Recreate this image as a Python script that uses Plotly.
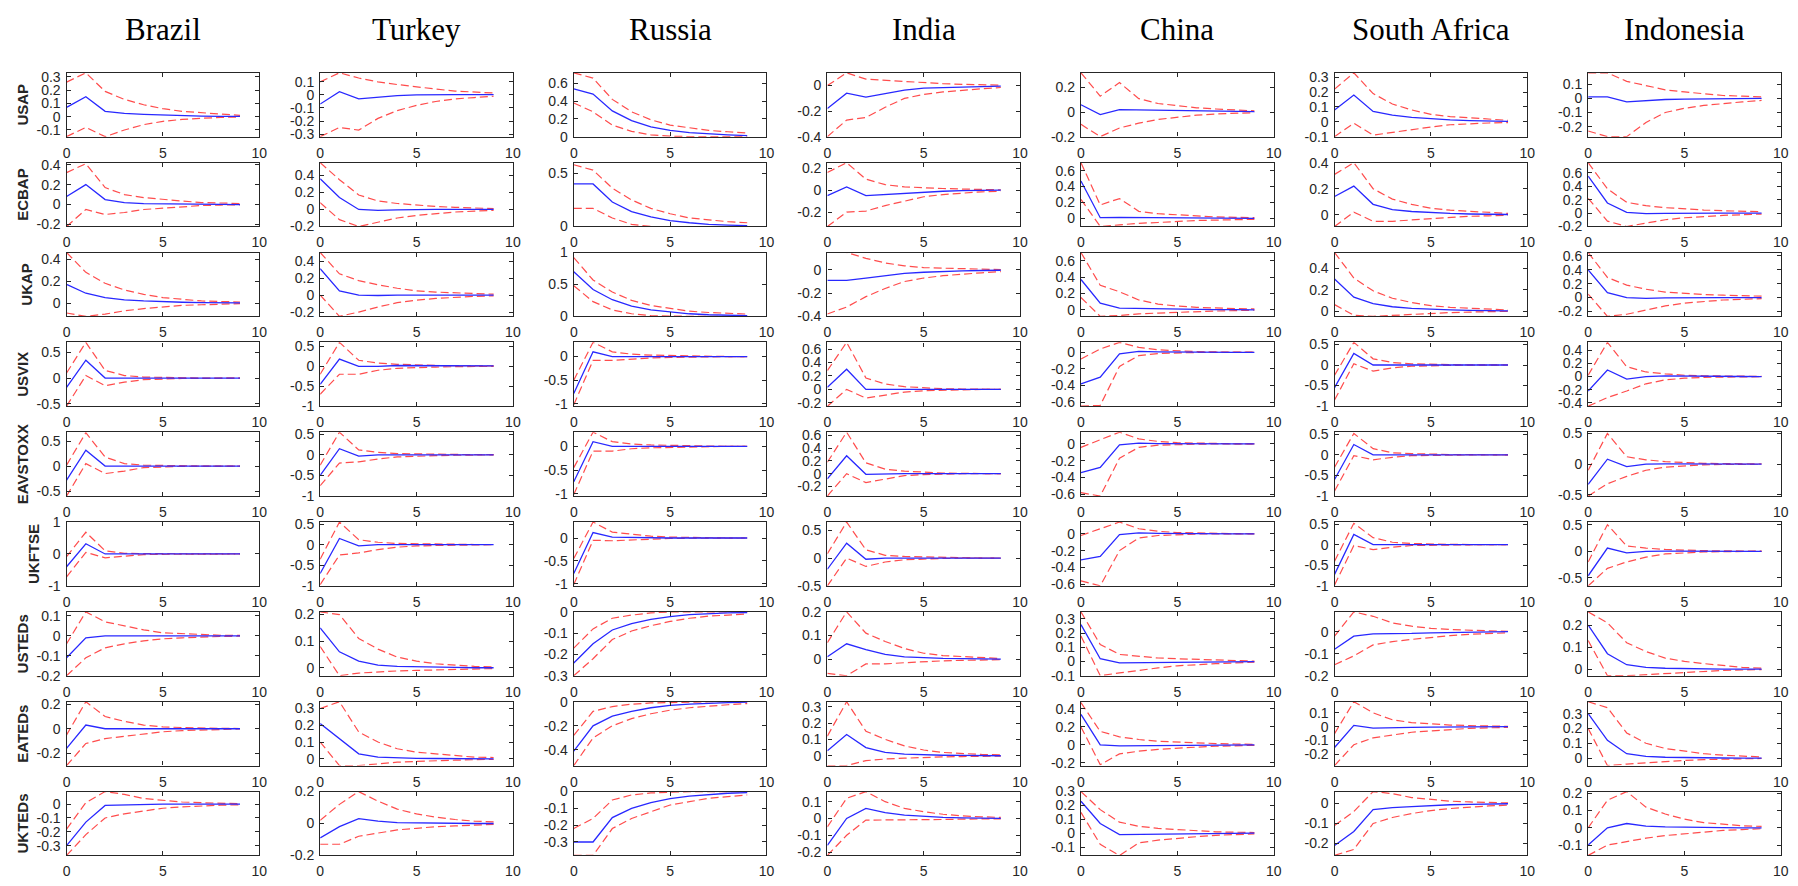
import math
import plotly.graph_objects as go

# ---------------- data ----------------
countries = ["Brazil", "Turkey", "Russia", "India", "China", "South Africa", "Indonesia"]
variables = ["USAP", "ECBAP", "UKAP", "USVIX", "EAVSTOXX", "UKFTSE", "USTEDs", "EATEDs", "UKTEDs"]
horizon = list(range(10))

brazil_mid = [
    [0.07, 0.15, 0.04, 0.025, 0.018, 0.012, 0.008, 0.005, 0.003, 0.002],
    [0.08, 0.20, 0.05, 0.02, 0.01, 0.006, 0.004, 0.002, 0.001, 0.0],
    [0.17, 0.09, 0.05, 0.03, 0.02, 0.012, 0.008, 0.005, 0.003, 0.002],
    [-0.18, 0.35, 0.0, 0.0, 0.0, 0.0, 0.0, 0.0, 0.0, 0.0],
    [-0.28, 0.32, 0.0, 0.0, 0.0, 0.0, 0.0, 0.0, 0.0, 0.0],
    [-0.40, 0.32, 0.0, 0.0, 0.0, 0.0, 0.0, 0.0, 0.0, 0.0],
    [-0.11, -0.01, 0.0, 0.0, 0.0, 0.0, 0.0, 0.0, 0.0, 0.0],
    [-0.16, 0.03, 0.0, 0.0, 0.0, 0.0, 0.0, 0.0, 0.0, 0.0],
    [-0.30, -0.13, -0.01, -0.005, 0.0, 0.0, 0.0, 0.0, 0.0, 0.0],
]
brazil_hi = [
    [0.26, 0.33, 0.19, 0.13, 0.09, 0.06, 0.04, 0.03, 0.02, 0.01],
    [0.32, 0.41, 0.17, 0.10, 0.07, 0.05, 0.035, 0.02, 0.015, 0.01],
    [0.46, 0.28, 0.18, 0.12, 0.08, 0.05, 0.035, 0.02, 0.015, 0.01],
    [0.10, 0.70, 0.15, 0.05, 0.02, 0.01, 0.005, 0.0, 0.0, 0.0],
    [0.02, 0.67, 0.18, 0.05, 0.02, 0.01, 0.005, 0.0, 0.0, 0.0],
    [-0.08, 0.68, 0.10, 0.02, 0.01, 0.005, 0.0, 0.0, 0.0, 0.0],
    [-0.04, 0.12, 0.07, 0.05, 0.03, 0.015, 0.01, 0.005, 0.003, 0.002],
    [-0.05, 0.22, 0.10, 0.06, 0.03, 0.015, 0.01, 0.005, 0.003, 0.002],
    [-0.18, 0.01, 0.09, 0.07, 0.04, 0.025, 0.015, 0.01, 0.005, 0.003],
]
brazil_lo = [
    [-0.15, -0.08, -0.15, -0.10, -0.06, -0.035, -0.02, -0.01, -0.005, -0.003],
    [-0.22, -0.05, -0.10, -0.08, -0.05, -0.035, -0.02, -0.01, -0.005, -0.003],
    [-0.09, -0.12, -0.10, -0.07, -0.05, -0.035, -0.02, -0.015, -0.01, -0.005],
    [-0.55, 0.05, -0.15, -0.08, -0.03, -0.015, -0.008, -0.004, -0.002, 0.0],
    [-0.60, 0.05, -0.15, -0.10, -0.03, -0.01, -0.005, 0.0, 0.0, 0.0],
    [-0.72, 0.05, -0.12, -0.06, -0.02, -0.01, -0.005, 0.0, 0.0, 0.0],
    [-0.20, -0.11, -0.06, -0.04, -0.025, -0.015, -0.01, -0.005, -0.003, -0.002],
    [-0.30, -0.12, -0.08, -0.06, -0.04, -0.025, -0.015, -0.01, -0.005, -0.002],
    [-0.37, -0.22, -0.10, -0.07, -0.05, -0.03, -0.02, -0.012, -0.008, -0.005],
]

turkey_mid = [
    [-0.07, 0.025, -0.03, -0.015, -0.005, 0.0, 0.003, 0.003, 0.002, 0.002],
    [0.36, 0.14, 0.0, -0.01, -0.005, 0.0, 0.0, 0.0, 0.0, 0.0],
    [0.31, 0.05, 0.0, -0.005, 0.0, 0.0, 0.0, 0.0, 0.0, 0.0],
    [-0.45, 0.18, 0.0, 0.0, 0.02, 0.02, 0.02, 0.01, 0.01, 0.01],
    [-0.50, 0.15, -0.03, 0.0, 0.0, 0.0, 0.0, 0.0, 0.0, 0.0],
    [-0.70, 0.15, -0.03, 0.0, 0.0, 0.0, 0.0, 0.0, 0.0, 0.0],
    [0.15, 0.06, 0.025, 0.01, 0.005, 0.003, 0.002, 0.001, 0.0, 0.0],
    [0.21, 0.12, 0.03, 0.01, 0.005, 0.003, 0.002, 0.001, 0.0, 0.0],
    [-0.09, -0.02, 0.03, 0.015, 0.005, 0.003, 0.002, 0.001, 0.0, 0.0],
]
turkey_hi = [
    [0.10, 0.17, 0.13, 0.10, 0.08, 0.06, 0.045, 0.03, 0.02, 0.015],
    [0.55, 0.35, 0.17, 0.10, 0.07, 0.05, 0.035, 0.025, 0.015, 0.01],
    [0.50, 0.25, 0.17, 0.12, 0.08, 0.05, 0.035, 0.025, 0.015, 0.01],
    [-0.20, 0.60, 0.15, 0.08, 0.05, 0.03, 0.02, 0.015, 0.01, 0.01],
    [-0.25, 0.55, 0.12, 0.06, 0.03, 0.02, 0.01, 0.01, 0.005, 0.005],
    [-0.35, 0.55, 0.12, 0.06, 0.03, 0.02, 0.01, 0.01, 0.005, 0.005],
    [0.21, 0.20, 0.11, 0.07, 0.04, 0.025, 0.015, 0.01, 0.005, 0.003],
    [0.30, 0.34, 0.16, 0.10, 0.06, 0.04, 0.03, 0.02, 0.01, 0.008],
    [0.02, 0.12, 0.20, 0.14, 0.09, 0.06, 0.04, 0.025, 0.015, 0.01],
]
turkey_lo = [
    [-0.32, -0.25, -0.27, -0.18, -0.12, -0.08, -0.05, -0.03, -0.02, -0.01],
    [0.08, -0.12, -0.20, -0.15, -0.10, -0.07, -0.05, -0.03, -0.02, -0.01],
    [0.0, -0.25, -0.20, -0.14, -0.09, -0.06, -0.04, -0.025, -0.015, -0.01],
    [-0.70, -0.20, -0.20, -0.10, -0.05, -0.03, -0.02, -0.01, -0.005, 0.0],
    [-0.75, -0.20, -0.17, -0.10, -0.05, -0.03, -0.02, -0.01, -0.005, 0.0],
    [-0.97, -0.25, -0.20, -0.12, -0.06, -0.03, -0.02, -0.01, -0.005, 0.0],
    [0.08, -0.03, -0.02, -0.015, -0.012, -0.01, -0.008, -0.006, -0.004, -0.003],
    [0.10, -0.04, -0.04, -0.03, -0.02, -0.015, -0.01, -0.008, -0.005, -0.003],
    [-0.13, -0.13, -0.08, -0.06, -0.04, -0.03, -0.02, -0.015, -0.01, -0.005],
]

russia_mid = [
    [0.54, 0.48, 0.29, 0.18, 0.11, 0.07, 0.045, 0.03, 0.02, 0.012],
    [0.40, 0.40, 0.23, 0.14, 0.09, 0.055, 0.035, 0.02, 0.013, 0.008],
    [0.70, 0.42, 0.26, 0.16, 0.10, 0.065, 0.04, 0.025, 0.015, 0.01],
    [-0.78, 0.10, 0.0, 0.0, 0.0, 0.0, 0.0, 0.0, 0.0, 0.0],
    [-0.75, 0.10, 0.0, 0.0, 0.0, 0.0, 0.0, 0.0, 0.0, 0.0],
    [-0.78, 0.12, 0.02, 0.01, 0.0, 0.0, 0.0, 0.0, 0.0, 0.0],
    [-0.24, -0.15, -0.085, -0.055, -0.035, -0.022, -0.013, -0.008, -0.005, -0.003],
    [-0.41, -0.20, -0.12, -0.08, -0.05, -0.03, -0.02, -0.012, -0.007, -0.004],
    [-0.30, -0.30, -0.155, -0.10, -0.065, -0.042, -0.027, -0.017, -0.01, -0.006],
]
russia_hi = [
    [0.72, 0.66, 0.42, 0.28, 0.19, 0.13, 0.10, 0.07, 0.055, 0.04],
    [0.58, 0.53, 0.36, 0.25, 0.17, 0.12, 0.08, 0.06, 0.045, 0.035],
    [0.92, 0.57, 0.38, 0.25, 0.17, 0.12, 0.08, 0.06, 0.045, 0.035],
    [-0.50, 0.30, 0.10, 0.05, 0.03, 0.02, 0.01, 0.005, 0.0, 0.0],
    [-0.45, 0.30, 0.10, 0.05, 0.03, 0.02, 0.01, 0.005, 0.0, 0.0],
    [-0.45, 0.35, 0.13, 0.08, 0.04, 0.02, 0.01, 0.005, 0.0, 0.0],
    [-0.17, -0.08, -0.03, -0.015, -0.005, 0.0, 0.0, 0.0, 0.0, 0.0],
    [-0.28, -0.08, -0.04, -0.02, -0.01, -0.005, 0.0, 0.0, 0.0, 0.0],
    [-0.22, -0.16, -0.05, -0.02, -0.008, -0.003, 0.0, 0.0, 0.0, 0.0],
]
russia_lo = [
    [0.38, 0.28, 0.13, 0.06, 0.02, 0.005, 0.0, 0.0, 0.0, 0.0],
    [0.17, 0.17, 0.08, 0.02, 0.0, 0.0, 0.0, 0.0, 0.0, 0.0],
    [0.48, 0.23, 0.10, 0.04, 0.01, 0.0, 0.0, 0.0, 0.0, 0.0],
    [-1.02, -0.08, -0.08, -0.05, -0.03, -0.02, -0.01, -0.005, 0.0, 0.0],
    [-1.02, -0.10, -0.10, -0.05, -0.03, -0.02, -0.01, -0.005, 0.0, 0.0],
    [-1.02, -0.05, -0.06, -0.04, -0.02, -0.01, -0.005, 0.0, 0.0, 0.0],
    [-0.30, -0.22, -0.13, -0.09, -0.065, -0.045, -0.03, -0.02, -0.015, -0.01],
    [-0.53, -0.30, -0.20, -0.14, -0.10, -0.07, -0.05, -0.035, -0.025, -0.015],
    [-0.38, -0.38, -0.22, -0.16, -0.12, -0.08, -0.06, -0.04, -0.03, -0.02],
]

india_mid = [
    [-0.18, -0.06, -0.09, -0.06, -0.035, -0.02, -0.015, -0.01, -0.008, -0.005],
    [-0.05, 0.03, -0.05, -0.04, -0.025, -0.015, -0.01, -0.005, -0.003, 0.0],
    [-0.09, -0.09, -0.07, -0.05, -0.03, -0.02, -0.012, -0.008, -0.005, -0.003],
    [0.03, 0.30, 0.0, 0.0, 0.0, 0.0, 0.0, 0.0, 0.0, 0.0],
    [-0.08, 0.28, -0.01, 0.0, 0.0, 0.0, 0.0, 0.0, 0.0, 0.0],
    [-0.20, 0.27, -0.02, 0.0, 0.0, 0.0, 0.0, 0.0, 0.0, 0.0],
    [0.01, 0.065, 0.04, 0.02, 0.01, 0.006, 0.003, 0.002, 0.001, 0.0],
    [0.03, 0.13, 0.05, 0.02, 0.01, 0.005, 0.003, 0.002, 0.001, 0.0],
    [-0.16, 0.0, 0.06, 0.035, 0.02, 0.012, 0.007, 0.004, 0.002, 0.001],
]
india_hi = [
    [0.0, 0.10, 0.05, 0.04, 0.03, 0.02, 0.015, 0.01, 0.005, 0.003],
    [0.16, 0.25, 0.10, 0.05, 0.03, 0.02, 0.015, 0.01, 0.005, 0.003],
    [0.15, 0.15, 0.10, 0.06, 0.035, 0.02, 0.015, 0.01, 0.005, 0.003],
    [0.28, 0.70, 0.17, 0.08, 0.04, 0.02, 0.01, 0.005, 0.0, 0.0],
    [0.18, 0.65, 0.17, 0.07, 0.04, 0.02, 0.01, 0.005, 0.0, 0.0],
    [0.08, 0.65, 0.15, 0.05, 0.03, 0.02, 0.01, 0.005, 0.0, 0.0],
    [0.07, 0.20, 0.11, 0.075, 0.045, 0.025, 0.015, 0.01, 0.005, 0.003],
    [0.12, 0.33, 0.15, 0.10, 0.06, 0.035, 0.02, 0.012, 0.008, 0.005],
    [-0.05, 0.12, 0.16, 0.10, 0.06, 0.04, 0.025, 0.015, 0.01, 0.006],
]
india_lo = [
    [-0.40, -0.27, -0.25, -0.17, -0.10, -0.07, -0.05, -0.035, -0.025, -0.015],
    [-0.33, -0.20, -0.19, -0.14, -0.10, -0.06, -0.04, -0.025, -0.015, -0.01],
    [-0.38, -0.32, -0.23, -0.16, -0.10, -0.07, -0.05, -0.035, -0.025, -0.015],
    [-0.25, 0.0, -0.13, -0.08, -0.04, -0.02, -0.01, -0.005, 0.0, 0.0],
    [-0.35, 0.0, -0.14, -0.08, -0.03, -0.015, -0.005, 0.0, 0.0, 0.0],
    [-0.50, 0.0, -0.15, -0.07, -0.03, -0.015, -0.005, 0.0, 0.0, 0.0],
    [-0.06, -0.07, -0.02, -0.02, -0.015, -0.01, -0.007, -0.005, -0.003, -0.002],
    [-0.06, -0.06, -0.03, -0.02, -0.015, -0.01, -0.007, -0.005, -0.003, -0.002],
    [-0.22, -0.10, -0.01, -0.01, -0.01, -0.008, -0.006, -0.004, -0.003, -0.002],
]

china_mid = [
    [0.06, -0.02, 0.02, 0.018, 0.015, 0.012, 0.01, 0.007, 0.005, 0.003],
    [0.47, 0.01, 0.015, 0.012, 0.01, 0.007, 0.005, 0.003, 0.002, 0.001],
    [0.37, 0.08, 0.02, 0.015, 0.01, 0.006, 0.004, 0.002, 0.001, 0.0],
    [-0.38, -0.30, -0.02, 0.01, 0.005, 0.002, 0.001, 0.0, 0.0, 0.0],
    [-0.34, -0.28, -0.01, 0.01, 0.005, 0.002, 0.001, 0.0, 0.0, 0.0],
    [-0.31, -0.27, -0.01, 0.01, 0.005, 0.002, 0.001, 0.0, 0.0, 0.0],
    [0.26, 0.02, -0.01, -0.008, -0.005, -0.003, -0.002, -0.001, 0.0, 0.0],
    [0.34, 0.0, -0.01, -0.008, -0.005, -0.003, -0.002, -0.001, 0.0, 0.0],
    [0.23, 0.07, -0.01, -0.008, -0.006, -0.004, -0.002, -0.001, 0.0, 0.0],
]
china_hi = [
    [0.32, 0.13, 0.24, 0.11, 0.07, 0.05, 0.035, 0.025, 0.015, 0.01],
    [0.70, 0.17, 0.25, 0.09, 0.06, 0.045, 0.03, 0.02, 0.015, 0.01],
    [0.70, 0.30, 0.22, 0.12, 0.07, 0.045, 0.03, 0.02, 0.015, 0.01],
    [-0.08, 0.04, 0.12, 0.06, 0.03, 0.015, 0.008, 0.004, 0.002, 0.001],
    [-0.04, 0.05, 0.14, 0.06, 0.03, 0.015, 0.008, 0.004, 0.002, 0.001],
    [-0.02, 0.06, 0.14, 0.06, 0.03, 0.015, 0.008, 0.004, 0.002, 0.001],
    [0.35, 0.12, 0.05, 0.035, 0.025, 0.02, 0.015, 0.01, 0.005, 0.003],
    [0.47, 0.15, 0.09, 0.06, 0.04, 0.03, 0.02, 0.015, 0.01, 0.005],
    [0.30, 0.17, 0.08, 0.05, 0.035, 0.025, 0.015, 0.01, 0.007, 0.005],
]
china_lo = [
    [-0.10, -0.20, -0.13, -0.09, -0.06, -0.04, -0.025, -0.015, -0.01, -0.005],
    [0.24, -0.10, -0.08, -0.06, -0.05, -0.035, -0.025, -0.02, -0.015, -0.01],
    [0.15, -0.08, -0.07, -0.05, -0.04, -0.03, -0.02, -0.015, -0.01, -0.005],
    [-0.65, -0.64, -0.17, -0.04, -0.015, -0.005, -0.002, 0.0, 0.0, 0.0],
    [-0.58, -0.62, -0.17, -0.04, -0.015, -0.005, -0.002, 0.0, 0.0, 0.0],
    [-0.56, -0.62, -0.20, -0.05, -0.02, -0.008, -0.003, 0.0, 0.0, 0.0],
    [0.18, -0.10, -0.08, -0.06, -0.045, -0.03, -0.02, -0.015, -0.01, -0.005],
    [0.20, -0.22, -0.10, -0.07, -0.05, -0.035, -0.025, -0.015, -0.01, -0.005],
    [0.15, -0.08, -0.16, -0.07, -0.05, -0.035, -0.025, -0.015, -0.01, -0.005],
]

safrica_mid = [
    [0.08, 0.18, 0.07, 0.045, 0.03, 0.02, 0.013, 0.008, 0.005, 0.003],
    [0.14, 0.22, 0.08, 0.04, 0.025, 0.015, 0.01, 0.006, 0.004, 0.002],
    [0.30, 0.13, 0.07, 0.04, 0.025, 0.015, 0.01, 0.006, 0.004, 0.002],
    [-0.55, 0.28, 0.0, 0.0, 0.0, 0.0, 0.0, 0.0, 0.0, 0.0],
    [-0.60, 0.25, 0.0, 0.0, 0.0, 0.0, 0.0, 0.0, 0.0, 0.0],
    [-0.72, 0.25, 0.0, 0.0, 0.0, 0.0, 0.0, 0.0, 0.0, 0.0],
    [-0.08, -0.02, -0.01, -0.01, -0.008, -0.005, -0.003, -0.002, -0.001, 0.0],
    [-0.15, 0.01, -0.01, -0.01, -0.005, -0.003, -0.002, -0.001, 0.0, 0.0],
    [-0.21, -0.14, -0.03, -0.02, -0.015, -0.01, -0.006, -0.004, -0.002, -0.001],
]
safrica_hi = [
    [0.22, 0.33, 0.19, 0.12, 0.08, 0.05, 0.035, 0.025, 0.015, 0.01],
    [0.31, 0.40, 0.20, 0.12, 0.08, 0.05, 0.035, 0.025, 0.015, 0.01],
    [0.55, 0.31, 0.19, 0.12, 0.08, 0.05, 0.035, 0.025, 0.015, 0.01],
    [-0.25, 0.55, 0.15, 0.06, 0.03, 0.015, 0.008, 0.004, 0.002, 0.0],
    [-0.30, 0.52, 0.15, 0.05, 0.03, 0.015, 0.008, 0.004, 0.002, 0.0],
    [-0.40, 0.52, 0.17, 0.06, 0.03, 0.015, 0.008, 0.004, 0.002, 0.0],
    [-0.02, 0.09, 0.07, 0.04, 0.025, 0.015, 0.01, 0.006, 0.004, 0.002],
    [-0.05, 0.18, 0.10, 0.05, 0.03, 0.02, 0.012, 0.008, 0.005, 0.003],
    [-0.11, -0.04, 0.06, 0.05, 0.03, 0.02, 0.012, 0.008, 0.005, 0.003],
]
safrica_lo = [
    [-0.10, -0.01, -0.09, -0.07, -0.05, -0.035, -0.02, -0.012, -0.008, -0.005],
    [-0.09, 0.02, -0.05, -0.05, -0.04, -0.03, -0.02, -0.012, -0.008, -0.005],
    [0.06, -0.04, -0.05, -0.04, -0.03, -0.02, -0.015, -0.01, -0.005, -0.003],
    [-0.85, 0.03, -0.15, -0.07, -0.03, -0.015, -0.008, -0.004, -0.002, 0.0],
    [-0.88, -0.02, -0.12, -0.06, -0.02, -0.01, -0.005, -0.002, 0.0, 0.0],
    [-0.98, -0.02, -0.12, -0.06, -0.02, -0.01, -0.005, -0.002, 0.0, 0.0],
    [-0.15, -0.11, -0.06, -0.045, -0.035, -0.025, -0.018, -0.012, -0.008, -0.005],
    [-0.28, -0.13, -0.08, -0.06, -0.04, -0.03, -0.02, -0.012, -0.008, -0.005],
    [-0.26, -0.23, -0.10, -0.07, -0.05, -0.035, -0.025, -0.018, -0.012, -0.008],
]

indonesia_mid = [
    [0.01, 0.01, -0.025, -0.015, -0.008, -0.005, -0.003, -0.002, -0.001, 0.0],
    [0.55, 0.15, 0.01, -0.01, -0.005, 0.0, 0.0, 0.0, 0.0, 0.0],
    [0.40, 0.07, 0.0, -0.01, -0.005, 0.0, 0.0, 0.0, 0.0, 0.0],
    [-0.22, 0.10, -0.04, 0.0, 0.01, 0.005, 0.003, 0.002, 0.001, 0.0],
    [-0.33, 0.08, -0.04, 0.0, 0.005, 0.003, 0.002, 0.001, 0.0, 0.0],
    [-0.46, 0.06, -0.03, 0.0, 0.005, 0.003, 0.002, 0.001, 0.0, 0.0],
    [0.20, 0.07, 0.02, 0.008, 0.004, 0.002, 0.001, 0.0, 0.0, 0.0],
    [0.30, 0.12, 0.03, 0.012, 0.006, 0.003, 0.002, 0.001, 0.0, 0.0],
    [-0.10, 0.0, 0.025, 0.01, 0.005, 0.003, 0.002, 0.001, 0.0, 0.0],
]
indonesia_hi = [
    [0.18, 0.18, 0.12, 0.09, 0.06, 0.045, 0.03, 0.02, 0.015, 0.01],
    [0.75, 0.36, 0.16, 0.11, 0.08, 0.06, 0.045, 0.035, 0.025, 0.02],
    [0.65, 0.29, 0.18, 0.12, 0.08, 0.06, 0.045, 0.035, 0.025, 0.02],
    [0.02, 0.52, 0.15, 0.07, 0.04, 0.02, 0.012, 0.008, 0.005, 0.003],
    [-0.10, 0.50, 0.12, 0.07, 0.04, 0.02, 0.012, 0.008, 0.005, 0.003],
    [-0.20, 0.50, 0.10, 0.06, 0.035, 0.02, 0.012, 0.008, 0.005, 0.003],
    [0.26, 0.21, 0.12, 0.08, 0.05, 0.035, 0.025, 0.015, 0.008, 0.004],
    [0.38, 0.34, 0.17, 0.10, 0.065, 0.045, 0.03, 0.02, 0.012, 0.008],
    [0.0, 0.16, 0.21, 0.12, 0.08, 0.05, 0.03, 0.02, 0.012, 0.008],
]
indonesia_lo = [
    [-0.23, -0.27, -0.27, -0.17, -0.10, -0.07, -0.05, -0.035, -0.025, -0.015],
    [0.22, -0.12, -0.20, -0.15, -0.10, -0.07, -0.05, -0.035, -0.025, -0.015],
    [0.05, -0.27, -0.24, -0.18, -0.12, -0.08, -0.055, -0.035, -0.025, -0.015],
    [-0.45, -0.32, -0.22, -0.11, -0.05, -0.025, -0.012, -0.006, -0.003, -0.002],
    [-0.52, -0.32, -0.20, -0.10, -0.05, -0.025, -0.012, -0.006, -0.003, -0.002],
    [-0.65, -0.32, -0.20, -0.11, -0.05, -0.025, -0.012, -0.006, -0.003, -0.002],
    [0.13, -0.03, -0.03, -0.025, -0.02, -0.015, -0.01, -0.006, -0.004, -0.002],
    [0.20, -0.05, -0.04, -0.03, -0.02, -0.015, -0.01, -0.007, -0.004, -0.002],
    [-0.16, -0.10, -0.08, -0.06, -0.045, -0.035, -0.025, -0.015, -0.01, -0.005],
]

# y-axis limits (per country, per variable) and y tick steps
brazil_ylim = [[-0.15, 0.33], [-0.22, 0.42], [-0.12, 0.46], [-0.55, 0.70], [-0.60, 0.68],
               [-1.0, 1.0], [-0.20, 0.12], [-0.30, 0.22], [-0.37, 0.09]]
turkey_ylim = [[-0.32, 0.17], [-0.20, 0.55], [-0.25, 0.50], [-1.0, 0.60], [-1.0, 0.55],
               [-1.0, 0.55], [-0.03, 0.21], [-0.04, 0.34], [-0.20, 0.20]]
russia_ylim = [[0.0, 0.72], [0.0, 0.60], [0.0, 1.0], [-1.05, 0.30], [-1.05, 0.30],
               [-1.05, 0.35], [-0.30, 0.0], [-0.53, 0.0], [-0.38, 0.0]]
india_ylim = [[-0.40, 0.10], [-0.33, 0.25], [-0.40, 0.15], [-0.25, 0.70], [-0.35, 0.65],
              [-0.50, 0.65], [-0.07, 0.20], [-0.06, 0.33], [-0.22, 0.16]]
china_ylim = [[-0.20, 0.32], [-0.10, 0.70], [-0.08, 0.70], [-0.65, 0.12], [-0.62, 0.14],
              [-0.62, 0.14], [-0.10, 0.35], [-0.23, 0.48], [-0.16, 0.30]]
safrica_ylim = [[-0.10, 0.33], [-0.09, 0.40], [-0.05, 0.55], [-1.0, 0.55], [-1.0, 0.55],
                [-1.0, 0.55], [-0.20, 0.09], [-0.28, 0.18], [-0.26, 0.06]]
indonesia_ylim = [[-0.27, 0.18], [-0.20, 0.75], [-0.27, 0.65], [-0.45, 0.52], [-0.52, 0.52],
                  [-0.65, 0.55], [-0.03, 0.26], [-0.05, 0.38], [-0.16, 0.21]]

brazil_ystep = [0.1, 0.2, 0.2, 0.5, 0.5, 1.0, 0.1, 0.2, 0.1]
turkey_ystep = [0.1, 0.2, 0.2, 0.5, 0.5, 0.5, 0.1, 0.1, 0.2]
russia_ystep = [0.2, 0.5, 0.5, 0.5, 0.5, 0.5, 0.1, 0.2, 0.1]
india_ystep = [0.2, 0.2, 0.2, 0.2, 0.2, 0.5, 0.1, 0.1, 0.1]
china_ystep = [0.2, 0.2, 0.2, 0.2, 0.2, 0.2, 0.1, 0.2, 0.1]
safrica_ystep = [0.1, 0.2, 0.2, 0.5, 0.5, 0.5, 0.1, 0.1, 0.1]
indonesia_ystep = [0.1, 0.2, 0.2, 0.2, 0.5, 0.5, 0.1, 0.1, 0.1]

x_ticks = [0, 5, 10]

mids = [brazil_mid, turkey_mid, russia_mid, india_mid, china_mid, safrica_mid, indonesia_mid]
his = [brazil_hi, turkey_hi, russia_hi, india_hi, china_hi, safrica_hi, indonesia_hi]
los = [brazil_lo, turkey_lo, russia_lo, india_lo, china_lo, safrica_lo, indonesia_lo]
ylims = [brazil_ylim, turkey_ylim, russia_ylim, india_ylim, china_ylim, safrica_ylim, indonesia_ylim]
ysteps = [brazil_ystep, turkey_ystep, russia_ystep, india_ystep, china_ystep, safrica_ystep, indonesia_ystep]

# ---------------- layout ----------------
W, H = 1798, 886
LEFT0, COL_PITCH, PANEL_W = 63, 255.3, 194
TOP0, ROW_PITCH, PANEL_H = 66, 91.5, 65

TICK_FONT = dict(family="Liberation Sans, Arial, sans-serif", size=14, color="#262626")
BLUE = "rgb(40,40,255)"
RED = "rgba(255,45,45,0.85)"


def fmt(v):
    v = round(v, 6)
    if abs(v) < 1e-9:
        return "0"
    return ("%g" % v)


def ticks_for(lim, step):
    lo_k = math.ceil(lim[0] / step - 1e-6)
    hi_k = math.floor(lim[1] / step + 1e-6)
    vals = [round(k * step, 6) for k in range(lo_k, hi_k + 1)]
    return vals, [fmt(v) for v in vals]


fig = go.Figure()
layout = dict(
    width=W, height=H, margin=dict(l=0, r=0, t=0, b=0),
    paper_bgcolor="white", plot_bgcolor="white", showlegend=False,
)
annotations = []

for j, country in enumerate(countries):
    x0 = LEFT0 + COL_PITCH * j
    for i, var in enumerate(variables):
        k = i * 7 + j + 1
        sfx = "" if k == 1 else str(k)
        top = TOP0 + ROW_PITCH * i
        bot = top + PANEL_H
        xa = dict(
            domain=[x0 / W, (x0 + PANEL_W) / W], range=[0, 10],
            tickvals=x_ticks, ticktext=[str(t) for t in x_ticks],
            ticks="inside", ticklen=4, tickwidth=1, tickcolor="#262626",
            showline=True, linecolor="#262626", linewidth=1.3, mirror="ticks",
            showgrid=False, zeroline=False, tickfont=TICK_FONT,
            anchor="y" + sfx, ticklabelstandoff=3, fixedrange=True,
        )
        tv, tt = ticks_for(ylims[j][i], ysteps[j][i])
        ya = dict(
            domain=[1 - bot / H, 1 - top / H], range=ylims[j][i],
            tickvals=tv, ticktext=tt,
            ticks="inside", ticklen=4, tickwidth=1, tickcolor="#262626",
            showline=True, linecolor="#262626", linewidth=1.3, mirror="ticks",
            showgrid=False, zeroline=False, tickfont=TICK_FONT,
            anchor="x" + sfx, ticklabelstandoff=2, fixedrange=True,
        )
        if j == 0:
            ya["title"] = dict(text="<b>%s</b>" % var, standoff=4,
                               font=dict(family="Liberation Sans, Arial, sans-serif",
                                         size=15, color="#262626"))
        layout["xaxis" + sfx] = xa
        layout["yaxis" + sfx] = ya

        xr, yr = "x" + sfx, "y" + sfx
        fig.add_trace(go.Scatter(x=horizon, y=his[j][i], xaxis=xr, yaxis=yr, mode="lines",
                                 line=dict(color=RED, width=1.2, dash="8px,4px"),
                                 hoverinfo="skip", cliponaxis=True))
        fig.add_trace(go.Scatter(x=horizon, y=los[j][i], xaxis=xr, yaxis=yr, mode="lines",
                                 line=dict(color=RED, width=1.2, dash="8px,4px"),
                                 hoverinfo="skip", cliponaxis=True))
        fig.add_trace(go.Scatter(x=horizon, y=mids[j][i], xaxis=xr, yaxis=yr, mode="lines",
                                 line=dict(color=BLUE, width=1.3),
                                 hoverinfo="skip", cliponaxis=True))

    annotations.append(dict(
        text=country, xref="paper", yref="paper",
        x=(x0 + PANEL_W / 2) / W, y=1 - 22 / H, xanchor="center", yanchor="middle",
        showarrow=False, font=dict(family="Liberation Serif, Times New Roman, serif",
                                   size=31, color="black"),
    ))

layout["annotations"] = annotations
fig.update_layout(**layout)
fig.write_html("out.html")
